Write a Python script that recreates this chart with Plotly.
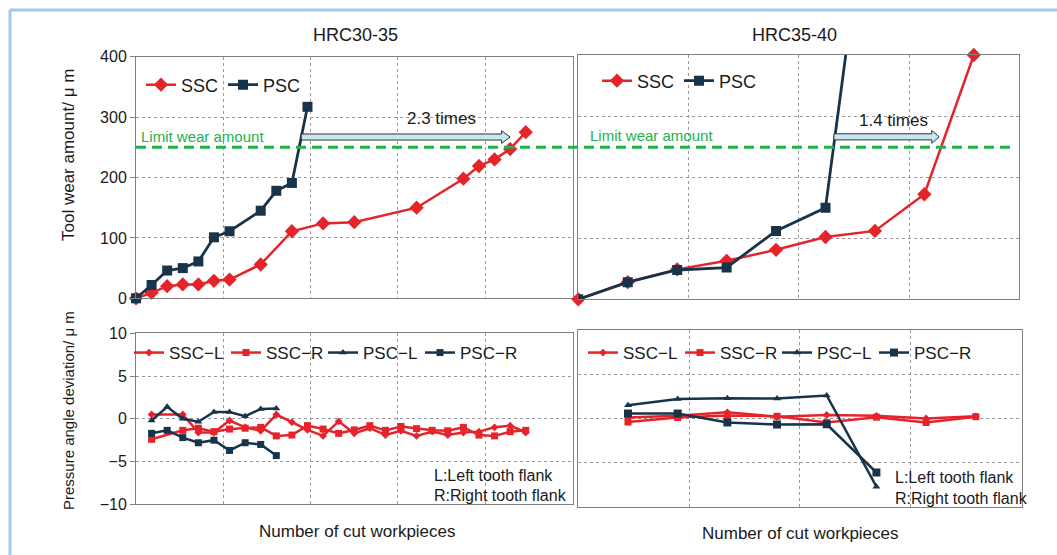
import plotly.graph_objects as go

RED = "#e5232a"
NAVY = "#17344b"
GREEN = "#22b14c"
GRID = "#9a9a9a"
BOX = "#7f7f7f"
TXT = "#1a1a1a"
FONT = "Liberation Sans, Arial, sans-serif"

W, H = 1057, 555

# ---------------- data ----------------
# top-left: HRC30-35 tool wear (x = sample index)
tl_ssc_x = [0, 1, 2, 3, 4, 5, 6, 8, 10, 12, 14, 18, 21, 22, 23, 24, 25]
tl_ssc_y = [0, 9, 20, 23, 23, 29, 31, 56, 111, 124, 126, 150, 198, 219, 230, 247, 275]
tl_psc_x = [0, 1, 2, 3, 4, 5, 6, 8, 9, 10, 11]
tl_psc_y = [0, 22, 46, 50, 61, 101, 111, 145, 178, 191, 317]

# top-right: HRC35-40 tool wear
tr_ssc_x = [0, 1, 2, 3, 4, 5, 6, 7, 8]
tr_ssc_y = [0, 28, 49, 63, 81, 102, 112, 172, 400]
tr_psc_x = [0, 1, 2, 3, 4, 5, 6]
tr_psc_y = [0, 28, 48, 52, 112, 150, 760]

# bottom-left: HRC30-35 pressure angle deviation
bl_ssc_x = [1] + list(range(3, 26))
bl_sscl_y = [0.5, 0.5, -1.6, -1.6, -0.2, -1.0, -1.4, 0.5, -0.4, -1.3, -2.0, -0.3,
             -1.7, -1.1, -1.9, -1.4, -2.0, -1.5, -1.9, -1.6, -1.5, -1.0, -0.8, -1.6]
bl_sscr_y = [-2.4, -1.35, -1.1, -1.5, -1.2, -1.1, -1.0, -2.0, -1.9, -0.8, -1.2, -1.7,
             -1.3, -0.8, -1.35, -0.9, -1.15, -1.35, -1.4, -1.0, -1.9, -2.0, -1.5, -1.35]
bl_psc_x = [1, 2, 3, 4, 5, 6, 7, 8, 9]
bl_pscl_y = [-0.2, 1.4, 0.0, -0.35, 0.8, 0.8, 0.3, 1.15, 1.2]
bl_pscr_y = [-1.7, -1.35, -2.2, -2.8, -2.5, -3.7, -2.8, -3.0, -4.3]

# bottom-right: HRC35-40 pressure angle deviation
br_ssc_x = [1, 2, 3, 4, 5, 6, 7, 8]
br_sscl_y = [0.1, 0.3, 0.7, 0.2, 0.4, 0.3, 0.0, 0.25]
br_sscr_y = [-0.4, 0.1, 0.35, 0.25, -0.45, 0.15, -0.45, 0.2]
br_psc_x = [1, 2, 3, 4, 5, 6]
br_pscl_y = [1.5, 2.2, 2.3, 2.25, 2.6, -7.7]
br_pscr_y = [0.56, 0.56, -0.45, -0.68, -0.65, -6.1]

LIMIT_WEAR = 250
# ratio arrows (data units of each top panel)
arrow_left = dict(x0=10.6, x1=24.0, head=0.55, y=267)
arrow_right = dict(x0=5.17, x1=7.3, head=0.15, y=266)

# ---------------- helpers ----------------
def px(x):
    return x / W

def py(y):
    return 1 - y / H

fig = go.Figure()

def line(x, y, name, color, symbol, size, xa, ya, legend, width=2.5, clip=False):
    fig.add_trace(go.Scatter(
        x=x, y=y, name=name, mode="lines+markers",
        line=dict(color=color, width=width),
        marker=dict(symbol=symbol, size=size, color=color),
        xaxis=xa, yaxis=ya, legend=legend, cliponaxis=clip))

line(tl_ssc_x, tl_ssc_y, "SSC", RED, "diamond", 11, "x", "y", "legend", 2.5, False)
line(tl_psc_x, tl_psc_y, "PSC", NAVY, "square", 10, "x", "y", "legend", 2.8, False)
line(tr_ssc_x, tr_ssc_y, "SSC", RED, "diamond", 11, "x2", "y2", "legend2", 2.5, False)
line(tr_psc_x, tr_psc_y, "PSC", NAVY, "square", 10, "x2", "y2", "legend2", 2.8, True)

line(bl_ssc_x, bl_sscl_y, "SSC−L", RED, "diamond", 6, "x3", "y3", "legend3", 2.5)
line(bl_ssc_x, bl_sscr_y, "SSC−R", RED, "square", 7, "x3", "y3", "legend3", 2.5)
line(bl_psc_x, bl_pscl_y, "PSC−L", NAVY, "triangle-up", 7, "x3", "y3", "legend3", 2.5)
line(bl_psc_x, bl_pscr_y, "PSC−R", NAVY, "square", 7, "x3", "y3", "legend3", 2.5)

line(br_ssc_x, br_sscl_y, "SSC−L", RED, "diamond", 6, "x4", "y4", "legend4", 2.5)
line(br_ssc_x, br_sscr_y, "SSC−R", RED, "square", 7, "x4", "y4", "legend4", 2.5)
line(br_psc_x, br_pscl_y, "PSC−L", NAVY, "triangle-up", 7, "x4", "y4", "legend4", 2.5)
line(br_psc_x, br_pscr_y, "PSC−R", NAVY, "square", 8, "x4", "y4", "legend4", 2.5)

gridkw = dict(showgrid=True, gridcolor=GRID, griddash="3px,3px", gridwidth=1,
              showline=True, linecolor=BOX, linewidth=1, mirror=True, zeroline=False,
              automargin=False)

def xax(domain, rng, dtick, anchor):
    return dict(domain=domain, range=rng, tick0=0, dtick=dtick, showticklabels=False,
                ticks="", anchor=anchor, **gridkw)

def yax(domain, rng, dtick, anchor, labels):
    d = dict(domain=domain, range=rng, tick0=0, dtick=dtick, anchor=anchor,
             showticklabels=labels, **gridkw)
    if labels:
        d.update(ticks="outside", ticklen=5, tickcolor=BOX,
                 tickfont=dict(size=16, color=TXT, family=FONT))
    else:
        d.update(ticks="")
    return d

xl = [px(136), px(572.5)]
xr_top = [px(578.3), px(1019.3)]
xr_bot = [px(578.3), px(1021.5)]
yt_l = [py(298.3), py(56.7)]
yt_r = [py(299.3), py(55)]
yb_l = [py(504.3), py(333.3)]
yb_r = [py(507), py(330)]

legkw = dict(orientation="h", xanchor="left", yanchor="middle", bgcolor="rgba(0,0,0,0)",
             font=dict(size=18, color=TXT, family=FONT), borderwidth=0)
legkw_b = dict(legkw, font=dict(size=17, color=TXT, family=FONT), entrywidth=52)

fig.update_layout(
    template="none",
    width=W, height=H, margin=dict(l=0, r=0, t=0, b=0, autoexpand=False),
    paper_bgcolor="white", plot_bgcolor="white",
    font=dict(family=FONT, color=TXT),
    xaxis=xax(xl, [0, 28], 5.6, "y"),
    yaxis=yax(yt_l, [0, 400], 100, "x", True),
    xaxis2=xax(xr_top, [0, 8.92], 2.23, "y2"),
    yaxis2=yax(yt_r, [0, 400], 100, "x2", False),
    xaxis3=xax(xl, [0, 28], 5.6, "y3"),
    yaxis3=yax(yb_l, [-10, 10], 5, "x3", True),
    xaxis4=xax(xr_bot, [0, 8.92], 2.23, "y4"),
    yaxis4=yax(yb_r, [-10, 10], 5, "x4", False),
    legend=dict(x=px(141), y=py(85), **legkw),
    legend2=dict(x=px(597), y=py(81), **legkw),
    legend3=dict(x=px(129), y=py(353), **legkw_b),
    legend4=dict(x=px(583), y=py(353), **legkw_b),
)

shapes = []
# outer frame
shapes.append(dict(type="line", xref="paper", yref="paper", x0=px(10), x1=1, y0=py(10), y1=py(10),
                   line=dict(color="#9fc9f3", width=3)))
shapes.append(dict(type="line", xref="paper", yref="paper", x0=px(10), x1=px(10), y0=py(10), y1=0,
                   line=dict(color="#9fc9f3", width=3)))
# limit wear amount line across both top panels
shapes.append(dict(type="line", xref="paper", yref="y", x0=px(136), x1=px(1012),
                   y0=LIMIT_WEAR, y1=LIMIT_WEAR,
                   line=dict(color=GREEN, width=3, dash="10px,6px")))

def arrow(a, xref, yref):
    x0, x1, hd, yc = a["x0"], a["x1"], a["head"], a["y"]
    hb, hh = 5, 10.5
    p = (f"M{x0},{yc-hb} L{x1-hd},{yc-hb} L{x1-hd},{yc-hh} L{x1},{yc} "
         f"L{x1-hd},{yc+hh} L{x1-hd},{yc+hb} L{x0},{yc+hb} Z")
    return dict(type="path", path=p, xref=xref, yref=yref, fillcolor="#c8e6ef",
                line=dict(color="#333333", width=1))

shapes.append(arrow(arrow_left, "x", "y"))
shapes.append(arrow(arrow_right, "x2", "y2"))
fig.update_layout(shapes=shapes)

ann = []
def text(t, x, y, size, color=TXT, xanchor="center", angle=0, xref="paper", yref="paper"):
    ann.append(dict(text=t, x=x, y=y, xref=xref, yref=yref, showarrow=False,
                    xanchor=xanchor, yanchor="middle", textangle=angle,
                    font=dict(size=size, color=color, family=FONT)))

text("HRC30-35", px(355), py(35), 18)
text("HRC35-40", px(794), py(35), 18)
text("Number of cut workpieces", px(357), py(531), 17)
text("Number of cut workpieces", px(800), py(533), 17)
text("Tool wear amount/ μ m", px(68), py(155), 17, angle=-90)
text("Pressure angle deviation/ μ m", px(68), py(411), 15, angle=-90)
text("Limit wear amount", 0.2, 268, 15, color=GREEN, xanchor="left", xref="x", yref="y")
text("Limit wear amount", 0.2, 268, 15, color=GREEN, xanchor="left", xref="x2", yref="y2")
text("2.3 times", 19.6, 297, 17, xref="x", yref="y")
text("1.4 times", 6.38, 293, 17, xref="x2", yref="y2")
text("L:Left tooth flank", px(432), py(475), 16, xanchor="left")
text("R:Right tooth flank", px(432), py(495), 16, xanchor="left")
text("L:Left tooth flank", px(893), py(477), 16, xanchor="left")
text("R:Right tooth flank", px(893), py(498), 16, xanchor="left")
fig.update_layout(annotations=ann)

POST = """
var gd = document.getElementById('{plot_id}');
document.documentElement.style.margin = '0';
document.documentElement.style.overflow = 'hidden';
document.body.style.margin = '0';
document.body.style.overflow = 'hidden';
gd.style.position = 'fixed';
gd.style.left = '0px';
gd.style.top = '0px';
"""

fig.write_html("out.html", config={"responsive": False, "displayModeBar": False},
               post_script=POST)
